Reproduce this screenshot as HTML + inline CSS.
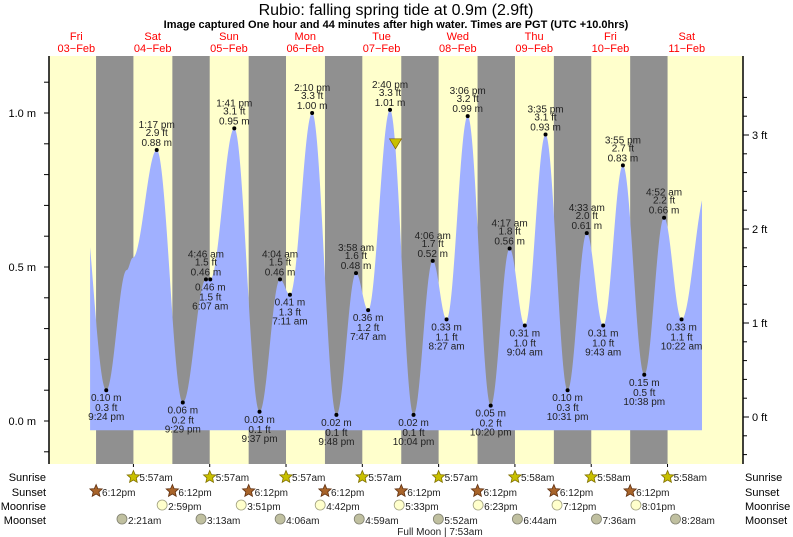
<!DOCTYPE html>
<html><head><meta charset="utf-8"><style>
html,body{margin:0;padding:0;background:#fff;}
svg{display:block;font-family:"Liberation Sans",sans-serif;}
</style></head><body>
<svg id="chart" width="793" height="537" viewBox="0 0 793 537" xmlns="http://www.w3.org/2000/svg">
<text x="396" y="15" text-anchor="middle" font-size="16" fill="#000">Rubio: falling  spring tide at 0.9m (2.9ft)</text>
<text x="396" y="28" text-anchor="middle" font-size="11" font-weight="bold" fill="#000">Image captured One hour and 44 minutes after high water. Times are PGT (UTC +10.0hrs)</text>
<g id="bg"></g><g id="fill"></g><g id="axes"></g><g id="labels"></g><g id="bottom"></g>
<text x="440" y="535" text-anchor="middle" font-size="10" fill="#222">Full Moon | 7:53am</text>
</svg>
<script>
const dayNames=["Fri","Sat","Sun","Mon","Tue","Wed","Thu","Fri","Sat"];
const dayDates=["03-Feb","04-Feb","05-Feb","06-Feb","07-Feb","08-Feb","09-Feb","10-Feb","11-Feb"];
// extrema: time in days since Fri 00:00, height m, labels
const tideTimes=[0.55,0.8917,1.16,1.24,1.5535,1.8951,2.1986,2.2549,2.5701,2.9007,3.1694,3.2993,3.5903,3.9083,4.1653,4.3243,4.6111,4.9194,5.1708,5.3521,5.6292,5.9306,6.1785,6.3778,6.6493,6.9382,7.1896,7.4049,7.6632,7.9431,8.2028,8.4319,8.76];
const tideHeights=[0.78,0.10,0.49,0.53,0.88,0.06,0.46,0.46,0.95,0.03,0.46,0.41,1.00,0.02,0.48,0.36,1.01,0.02,0.52,0.33,0.99,0.05,0.56,0.31,0.93,0.10,0.61,0.31,0.83,0.15,0.66,0.33,0.75];
const tideLabelTimes=[null,"9:24 pm",null,null,"1:17 pm","9:29 pm","4:46 am","6:07 am","1:41 pm","9:37 pm","4:04 am","7:11 am","2:10 pm","9:48 pm","3:58 am","7:47 am","2:40 pm","10:04 pm","4:06 am","8:27 am","3:06 pm","10:20 pm","4:17 am","9:04 am","3:35 pm","10:31 pm","4:33 am","9:43 am","3:55 pm","10:38 pm","4:52 am","10:22 am",null];
const tideFt=[null,"0.3",null,null,"2.9","0.2","1.5","1.5","3.1","0.1","1.5","1.3","3.3","0.1","1.6","1.2","3.3","0.1","1.7","1.1","3.2","0.2","1.8","1.0","3.1","0.3","2.0","1.0","2.7","0.5","2.2","1.1",null];
const sunriseTimes=["5:57am","5:57am","5:57am","5:57am","5:57am","5:58am","5:58am","5:58am"];
const sunsetTimes=["6:12pm","6:12pm","6:12pm","6:12pm","6:12pm","6:12pm","6:12pm","6:12pm"];
const moonriseTimes=["2:59pm","3:51pm","4:42pm","5:33pm","6:23pm","7:12pm","8:01pm"];
const moonsetTimes=["2:21am","3:13am","4:06am","4:59am","5:52am","6:44am","7:36am","8:28am"];
const mTicks=[0,0.5,1.0];
const ftTicks=[0,1,2,3];
const nowTime=4.683, nowHeight=0.9;
const dataStart=0.68, dataEnd=8.7;

const NS="http://www.w3.org/2000/svg";
const X0=38.2, DX=76.3, Y0=421, MY=308, FY0=417, FTY=94;
const PL=49, PR=743, PT=56, PB=464;
const xs=t=>X0+t*DX, ym=h=>Y0-h*MY, yft=f=>FY0-f*FTY;
function el(tag,attrs,parent,txt){const e=document.createElementNS(NS,tag);for(const k in attrs)e.setAttribute(k,attrs[k]);if(txt!=null)e.textContent=txt;parent.appendChild(e);return e;}
function tparse(s){const m=s.match(/(\d+):(\d+)\s*(am|pm)/);let h=+m[1]%12;if(m[3]=="pm")h+=12;return (h+(+m[2])/60)/24;}
const bg=document.getElementById('bg'),fl=document.getElementById('fill'),ax=document.getElementById('axes'),lb=document.getElementById('labels'),bt=document.getElementById('bottom');

let r=el('rect',{x:PL,y:PT,width:PR-PL,height:PB-PT,fill:'#ffffcc'},bg);


for(let d=0;d<8;d++){
  const s=xs(d+tparse(sunsetTimes[d])), e=xs(d+1+tparse(sunriseTimes[d]));
  const n=el('rect',{x:s,y:PT,width:e-s,height:PB-PT,fill:'#909090'},bg);
  
  
}
for(let d=0;d<9;d++){
  const a=el('text',{x:xs(d+0.5),y:40,'text-anchor':'middle','font-size':11,fill:'#ff0000'},bg,dayNames[d]);
  
  
  const b=el('text',{x:xs(d+0.5),y:52,'text-anchor':'middle','font-size':11,fill:'#ff0000'},bg,dayDates[d].replace('-','\u2212'));
  
  
}
function hAt(t){
  for(let i=0;i<tideTimes.length-1;i++){
    if(t>=tideTimes[i]&&t<=tideTimes[i+1]){
      const f=(t-tideTimes[i])/(tideTimes[i+1]-tideTimes[i]);
      return tideHeights[i]+(tideHeights[i+1]-tideHeights[i])*(1-Math.cos(Math.PI*f))/2;
    }
  }
  return tideHeights[tideHeights.length-1];
}
let d='M'+xs(dataStart)+','+ym(-0.03);
for(let t=dataStart;t<=dataEnd+1e-9;t+=0.005)d+=' L'+xs(t).toFixed(2)+','+ym(hAt(t)).toFixed(2);
d+=' L'+xs(dataEnd)+','+ym(-0.03)+' Z';
const area=el('path',{d:d,fill:'#a0b0ff'},fl);



const la=el('line',{x1:PL,y1:PT,x2:PL,y2:PB,stroke:'#000','stroke-width':1.5},ax);


const ra=el('line',{x1:PR,y1:PT,x2:PR,y2:PB,stroke:'#000','stroke-width':1.5},ax);


for(let v=-1;v<=11;v++){const y=ym(v/10);if(y<PT||y>PB)continue;el('line',{x1:PL-5,y1:y,x2:PL,y2:y,stroke:'#000'},ax);}
mTicks.forEach(v=>{const t=el('text',{x:36,y:ym(v)+4,'text-anchor':'end','font-size':11,fill:'#000'},ax,v.toFixed(1)+' m');
  
  });
for(let v=-2;v<=17;v++){const y=yft(v/5);if(y<PT||y>PB)continue;el('line',{x1:PR,y1:y,x2:PR+(v%5==0?6:4),y2:y,stroke:'#000'},ax);}
ftTicks.forEach(v=>{const t=el('text',{x:752,y:yft(v)+4,'font-size':11,fill:'#000'},ax,v+' ft');
  
  });
for(let k=1;k<=8;k++){const x=xs(k+tparse(sunriseTimes[0]));el('line',{x1:x,y1:PB,x2:x,y2:PB+3,stroke:'#000'},ax);}

for(let i=0;i<tideTimes.length;i++){
  if(!tideLabelTimes[i])continue;
  const x=xs(tideTimes[i]),y=ym(tideHeights[i]);
  const isHigh=(tideHeights[i]>=hAt(tideTimes[i]-0.02)&&tideHeights[i]>=hAt(tideTimes[i]+0.02));
  const dot=el('circle',{cx:x,cy:y,r:2,fill:'#000'},lb);
  
  
  const m=tideHeights[i].toFixed(2)+' m',f=tideFt[i]+' ft',tm=tideLabelTimes[i];
  const lines=isHigh?[[tm,-22],[f,-14],[m,-4]]:[[m,11],[f,21],[tm,30]];
  lines.forEach(L=>{const t=el('text',{x:x,y:y+L[1],'text-anchor':'middle','font-size':10,fill:'#222'},lb,L[0]);
    
    });
}
const nx=xs(nowTime),ny=ym(nowHeight);
const tri=el('path',{d:`M${nx-6},${ny-5} L${nx+6},${ny-5} L${nx},${ny+5} Z`,fill:'#c8c000',stroke:'#806000','stroke-width':0.7},lb);



const rows=[["Sunrise",477],["Sunset",492],["Moonrise",506],["Moonset",520]];
rows.forEach(R=>{
  const a=el('text',{x:46,y:R[1]+4,'text-anchor':'end','font-size':11,fill:'#000'},bt,R[0]);
  
  
  const b=el('text',{x:745,y:R[1]+4,'font-size':11,fill:'#000'},bt,R[0]);
  
  
});
function star(cx,cy,fill,stroke){let p='';for(let k=0;k<10;k++){const a=-Math.PI/2+k*Math.PI/5,rr=k%2?3:6.5;p+=(k?'L':'M')+(cx+rr*Math.cos(a)).toFixed(1)+','+(cy+rr*Math.sin(a)).toFixed(1);}return el('path',{d:p+'Z',fill:fill,stroke:stroke,'stroke-width':0.8},bt);}
function evLabel(x,y,txt,name){const t=el('text',{x:x+6,y:y+4,'font-size':10,fill:'#222'},bt,txt);}
sunriseTimes.forEach((s,k)=>{const x=xs(k+1+tparse(s));const st=star(x,477,'#c8c000','#807000');
  
  
  evLabel(x,477,s,'sunrise-time');});
sunsetTimes.forEach((s,k)=>{const x=xs(k+tparse(s));const st=star(x,491,'#a8642a','#603010');
  
  
  evLabel(x,492,s,'sunset-time');});
moonriseTimes.forEach((s,k)=>{const x=xs(k+1+tparse(s));const c=el('circle',{cx:x,cy:505,r:5,fill:'#ffffcc',stroke:'#a0a080','stroke-width':0.8},bt);
  
  
  evLabel(x,506,s,'moonrise-time');});
moonsetTimes.forEach((s,k)=>{const x=xs(k+1+tparse(s));const c=el('circle',{cx:x,cy:519,r:5,fill:'#c0c0a0',stroke:'#808070','stroke-width':0.8},bt);
  
  
  evLabel(x,520,s,'moonset-time');});
</script>
</body></html>
